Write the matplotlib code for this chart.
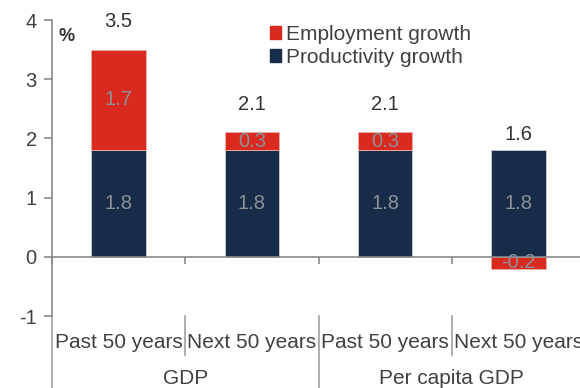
import numpy as np
import matplotlib
matplotlib.use("Agg")
import matplotlib.pyplot as plt
from matplotlib.patches import Patch

plt.rcParams['font.family'] = ['Liberation Sans', 'DejaVu Sans']
plt.rcParams['axes.unicode_minus'] = False

categories = ['Past 50 years', 'Next 50 years', 'Past 50 years', 'Next 50 years']
groups = ['GDP', 'Per capita GDP']
productivity = [1.8, 1.8, 1.8, 1.8]
employment = [1.7, 0.3, 0.3, -0.2]
totals = [3.5, 2.1, 2.1, 1.6]

red = '#DA291E'
navy = '#182B48'
grey = '#8a8a8a'
txt = '#404040'
inner = '#8C9099'

fig = plt.figure(figsize=(5.8, 3.88), dpi=100)
# axes runs a little past the right edge, like the original crop
ax = fig.add_axes([52 / 580, 72 / 388, 533 / 580, 296 / 388])

x = np.arange(len(categories)) + 0.5
prod = np.array(productivity)
emp = np.array(employment)
w = 0.41

ax.bar(x, prod, w, color=navy, edgecolor='#c8ccd4', linewidth=0.6, zorder=2)
ax.bar(x, emp, w, bottom=np.where(emp >= 0, prod, 0), color=red,
       edgecolor='#e8b0a8', linewidth=0.6, zorder=2)

for xi, p, e, t in zip(x, prod, emp, totals):
    ax.text(xi, p / 2, f'{p:.1f}', ha='center', va='center', fontsize=14.5, color=inner, zorder=3)
    mid = p + e / 2 if e >= 0 else e / 2
    ax.text(xi, mid, f'{e:.1f}', ha='center', va='center', fontsize=14.5, color=inner, zorder=3)
    ax.text(xi, t + 0.47, f'{t:.1f}', ha='center', va='center', fontsize=14.5, color='#333333')

ax.set_xlim(0, 4)
ax.set_ylim(-1, 4)
ax.set_yticks(range(-1, 5))
ax.tick_params(axis='y', direction='out', length=6, width=1.2, color=grey,
               labelsize=14.5, labelcolor=txt, pad=5)
ax.set_xticks(range(0, 5))
ax.tick_params(axis='x', direction='out', length=5, width=1.2, color=grey, labelbottom=False)
ax.spines['bottom'].set_position(('data', 0))
for s in ['top', 'right']:
    ax.spines[s].set_visible(False)
for s in ['left', 'bottom']:
    ax.spines[s].set_color(grey)
    ax.spines[s].set_linewidth(1.2)

# category box below the plot
for xi, c in zip(x, categories):
    ax.text(xi, -1.44, c, ha='center', va='center', fontsize=15, color=txt, clip_on=False)
for gi, g in enumerate(groups):
    ax.text(1 + 2 * gi, -2.05, g, ha='center', va='center', fontsize=15, color=txt, clip_on=False)
for sx in [1, 3]:
    ax.plot([sx, sx], [-1, -1.66], color='#a0a0a0', lw=1.2, clip_on=False)
for sx in [0, 2, 4]:
    ax.plot([sx, sx], [-1, -2.4], color='#a0a0a0', lw=1.2, clip_on=False)

ax.text(0.11, 3.72, '%', ha='center', va='center', fontsize=13, fontweight='bold', color='#333333')

handles = [Patch(color=red, label='Employment growth'),
           Patch(color=navy, label='Productivity growth')]
ax.legend(handles=handles, loc='upper left', bbox_to_anchor=(270 / 580, 1 - 25 / 388),
          bbox_transform=fig.transFigure, frameon=False, fontsize=15,
          handlelength=0.55, handleheight=0.55, handletextpad=0.22,
          labelspacing=0.18, borderpad=0, borderaxespad=0, labelcolor=txt)

fig.savefig('out.png', dpi=100)
